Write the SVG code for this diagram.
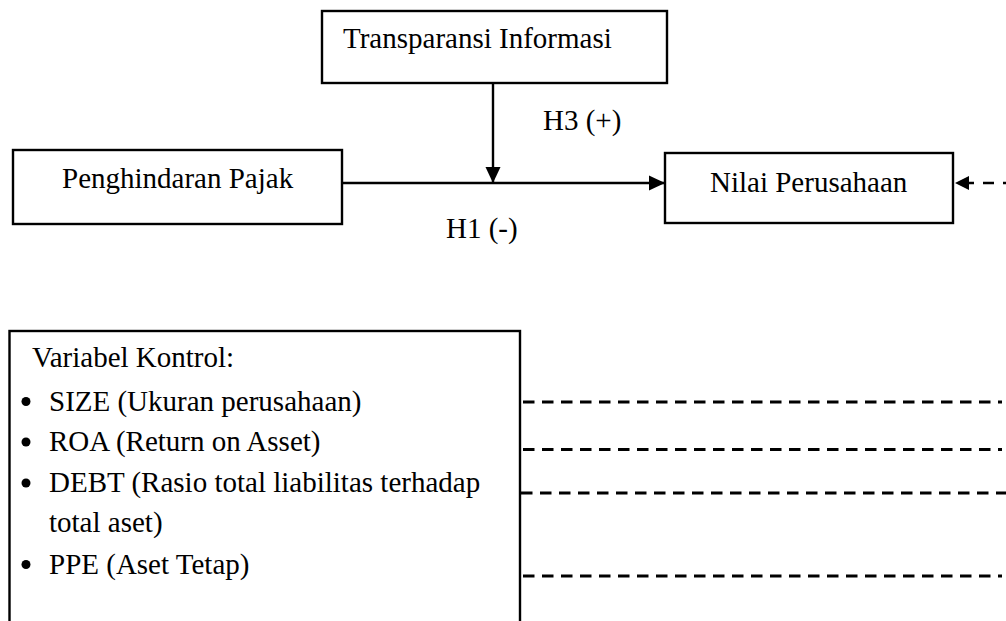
<svg xmlns="http://www.w3.org/2000/svg" width="1006" height="621" viewBox="0 0 1006 621">
  <style>
    text { font-family: "Liberation Serif", "Times New Roman", serif; font-size: 29px; fill: #000; }
    .box { fill: #fff; stroke: #000; stroke-width: 2.4; }
    .line { fill: none; stroke: #000; stroke-width: 2.4; }
    .dash { fill: none; stroke: #000; stroke-width: 3; stroke-dasharray: 11.5 7.5; }
    .dash2 { fill: none; stroke: #000; stroke-width: 2.5; stroke-dasharray: 11 9; }
  </style>
  <defs>
    <marker id="arrow" viewBox="0 0 10 10" refX="10" refY="5" markerUnits="userSpaceOnUse" markerWidth="16" markerHeight="16" orient="auto">
      <path d="M0,0.3 L10,5 L0,9.7 Z" fill="#000"/>
    </marker>
  </defs>
  <rect width="1006" height="621" fill="#fff"/>

  <g id="connectors">
    <line class="line" x1="342" y1="183" x2="665" y2="183" marker-end="url(#arrow)"/>
    <line class="line" x1="493" y1="83" x2="493" y2="183" marker-end="url(#arrow)"/>
    <line class="dash2" x1="1010" y1="183" x2="955" y2="183" stroke-dashoffset="4"/>
    <path d="M955,183 L969,176 L969,190 Z" fill="#000"/>
    <line class="dash" x1="523" y1="402" x2="1002" y2="402"/>
    <line class="dash" x1="523" y1="449.5" x2="1002" y2="449.5"/>
    <line class="dash" x1="521" y1="493" x2="1006" y2="493"/>
    <line class="dash" x1="523" y1="576" x2="1002" y2="576"/>
  </g>

  <g id="node-transparansi">
    <rect class="box" x="322" y="11" width="345" height="72"/>
    <text x="343" y="48">Transparansi Informasi</text>
  </g>

  <g id="label-h3">
    <text x="543" y="130">H3 (+)</text>
  </g>

  <g id="node-penghindaran">
    <rect class="box" x="13" y="150" width="329" height="74"/>
    <text x="62" y="188">Penghindaran Pajak</text>
  </g>

  <g id="node-nilai">
    <rect class="box" x="665" y="153" width="288" height="70"/>
    <text x="710" y="191.5">Nilai Perusahaan</text>
  </g>

  <g id="label-h1">
    <text x="446" y="238">H1 (-)</text>
  </g>

  <g id="node-kontrol">
    <rect class="box" x="9.5" y="331" width="510.5" height="320"/>
    <text x="32" y="367">Variabel Kontrol:</text>
    <circle cx="26" cy="401.5" r="4.5" fill="#000"/>
    <text x="49" y="411">SIZE (Ukuran perusahaan)</text>
    <circle cx="26" cy="442" r="4.5" fill="#000"/>
    <text x="49" y="451">ROA (Return on Asset)</text>
    <circle cx="26" cy="483" r="4.5" fill="#000"/>
    <text x="49" y="492">DEBT (Rasio total liabilitas terhadap</text>
    <text x="49" y="532">total aset)</text>
    <circle cx="26" cy="564.5" r="4.5" fill="#000"/>
    <text x="49" y="573.5">PPE (Aset Tetap)</text>
  </g>
</svg>
